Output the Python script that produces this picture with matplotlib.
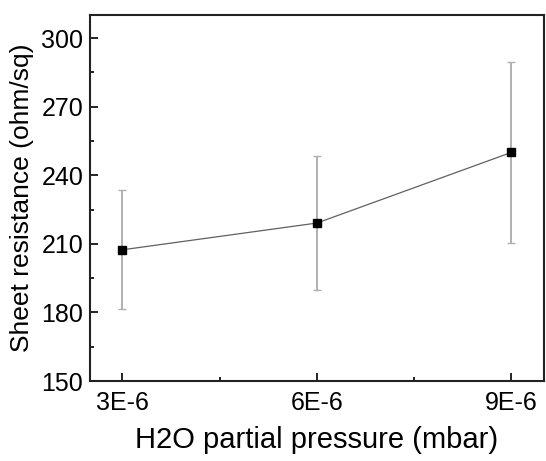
import matplotlib
matplotlib.use("Agg")
import matplotlib.pyplot as plt
from matplotlib.ticker import MultipleLocator, FixedLocator

plt.rcParams['font.family'] = ['Liberation Sans', 'DejaVu Sans']

# data
pressure = [3e-6, 6e-6, 9e-6]
resistance = [207.4, 219.1, 250.0]
err_low = [181.5, 189.9, 210.3]
err_high = [233.4, 248.6, 289.6]
xtick_labels = ['3E-6', '6E-6', '9E-6']

yerr = [[r - lo for r, lo in zip(resistance, err_low)],
        [hi - r for r, hi in zip(resistance, err_high)]]

fig = plt.figure(figsize=(5.46, 4.61), dpi=100)
ax = fig.add_axes([0.165, 0.1735, 0.831, 0.7935])

# error bars (grey) then connecting line and square markers
ax.errorbar(pressure, resistance, yerr=yerr, fmt='none', ecolor='#b0b0b0',
            elinewidth=1.4, capsize=2.8, capthick=1.0, zorder=2)
ax.plot(pressure, resistance, color='#606060', linewidth=0.9, zorder=3)
ax.plot(pressure, resistance, 's', color='black', markersize=6, zorder=4)

ax.set_xlim(2.5e-6, 9.5e-6)
ax.set_ylim(150, 310)
ax.set_xticks(pressure, xtick_labels)
ax.xaxis.set_minor_locator(FixedLocator([4.5e-6, 7.5e-6]))
ax.yaxis.set_major_locator(MultipleLocator(30))
ax.yaxis.set_minor_locator(MultipleLocator(15))

for s in ['top', 'right', 'left', 'bottom']:
    ax.spines[s].set_linewidth(1.5)
    ax.spines[s].set_color('#222222')

ax.tick_params(which='both', direction='in', top=False, right=False,
               width=1.2, labelsize=18)
ax.tick_params(which='major', length=6)
ax.tick_params(which='minor', length=3)
ax.tick_params(axis='x', pad=7)
ax.tick_params(axis='y', pad=5)

ax.set_xlabel('H2O partial pressure (mbar)', fontsize=21, labelpad=8)
ax.set_ylabel('Sheet resistance (ohm/sq)', fontsize=19, labelpad=5)

fig.savefig('out.png', dpi=100)
